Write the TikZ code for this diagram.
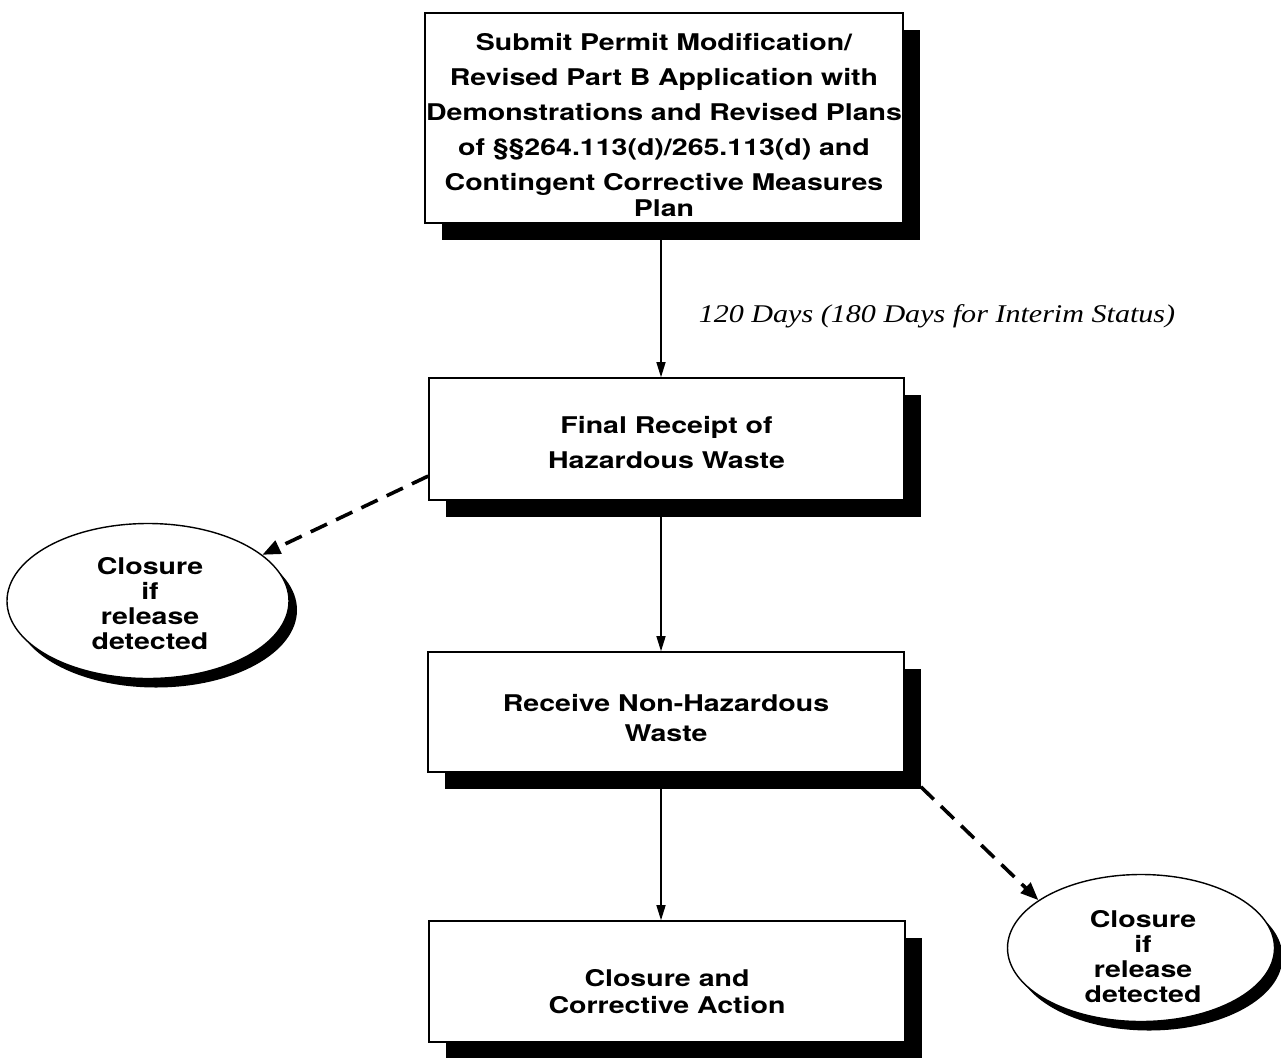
\documentclass[tikz,border=0pt]{standalone}
\usepackage{fontspec}
\newfontfamily\hv[FakeStretch=1.24]{TeX Gyre Heros}
\newfontfamily\tm[FakeStretch=1.18]{Liberation Serif}
\usetikzlibrary{shadows,arrows.meta,shapes.geometric,calc}
\tikzset{
  boxnode/.style={draw, line width=1.6pt, fill=white, inner sep=0pt,
    drop shadow={shadow xshift=17pt, shadow yshift=-17pt, fill=black, opacity=1}},
  ovalnode/.style={ellipse, draw, line width=1.4pt, fill=white, inner sep=0pt,
    drop shadow={shadow xshift=8pt, shadow yshift=-9pt, fill=black, opacity=1}},
  txt/.style={inner sep=0pt, align=center, font=\hv\bfseries\fontsize{23}{35}\selectfont},
  arr/.style={line width=1.4pt, -{Triangle[width=9pt,length=15pt]}},
  darr/.style={line width=3.6pt, dash pattern=on 18pt off 10pt, -{Triangle[width=14pt,length=18pt]}},
  lab/.style={font=\tm\itshape\fontsize{25.5}{30}\selectfont, inner sep=0pt}
}
\begin{document}
\begin{tikzpicture}[x=1pt,y=-1pt]
\useasboundingbox (0,0) rectangle (1281,1057);
\node[boxnode, minimum width=478pt, minimum height=210pt] (b1) at (664,118) {};
\node[boxnode, minimum width=475pt, minimum height=122pt] (b2) at (666.5,439) {};
\node[boxnode, minimum width=476pt, minimum height=120pt] (b3) at (666,712) {};
\node[boxnode, minimum width=476pt, minimum height=121pt] (b4) at (667,981.5) {};
\node[ovalnode, minimum width=282pt, minimum height=155pt] (e1) at (148,601) {};
\node[ovalnode, minimum width=267pt, minimum height=147pt] (e2) at (1141,948) {};
\node[txt, text width=490pt] (t1) at ($(b1)+(0,7.5)$)
  {Submit Permit Modification/\\Revised Part B Application with\\Demonstrations and Revised Plans\\of §§264.113(d)/265.113(d) and\\Contingent Corrective Measures\\[-9pt]Plan};
\node[txt] (t2) at ($(b2)+(0,3.5)$) {Final Receipt of\\Hazardous Waste};
\node[txt, font=\hv\bfseries\fontsize{23}{30}\selectfont] (t3) at ($(b3)+(0,6)$) {Receive Non-Hazardous\\Waste};
\node[txt, font=\hv\bfseries\fontsize{23}{27}\selectfont] (t4) at ($(b4)+(0,10)$) {Closure and\\Corrective Action};
\node[txt, font=\hv\bfseries\fontsize{23}{25}\selectfont] (t5) at ($(e1)+(2,3)$) {Closure\\if\\release\\detected};
\node[txt, font=\hv\bfseries\fontsize{23}{25}\selectfont] (t6) at ($(e2)+(2,9)$) {Closure\\if\\release\\detected};
\coordinate (ax) at (661,0);
\draw[arr] (b1.south -| ax) -- (b2.north -| ax);
\draw[arr] (b2.south -| ax) -- (b3.north -| ax);
\draw[arr] (b3.south -| ax) -- (b4.north -| ax);
\node[lab] (l1) at (937,316) {120 Days (180 Days for Interim Status)};
\draw[darr] ($(b2.south west)!0.2!(b2.north west)$) -- (e1.22);
\draw[darr] ($(b3.south east)+(16,14)$) -- (e2.155);
\end{tikzpicture}
\end{document}
